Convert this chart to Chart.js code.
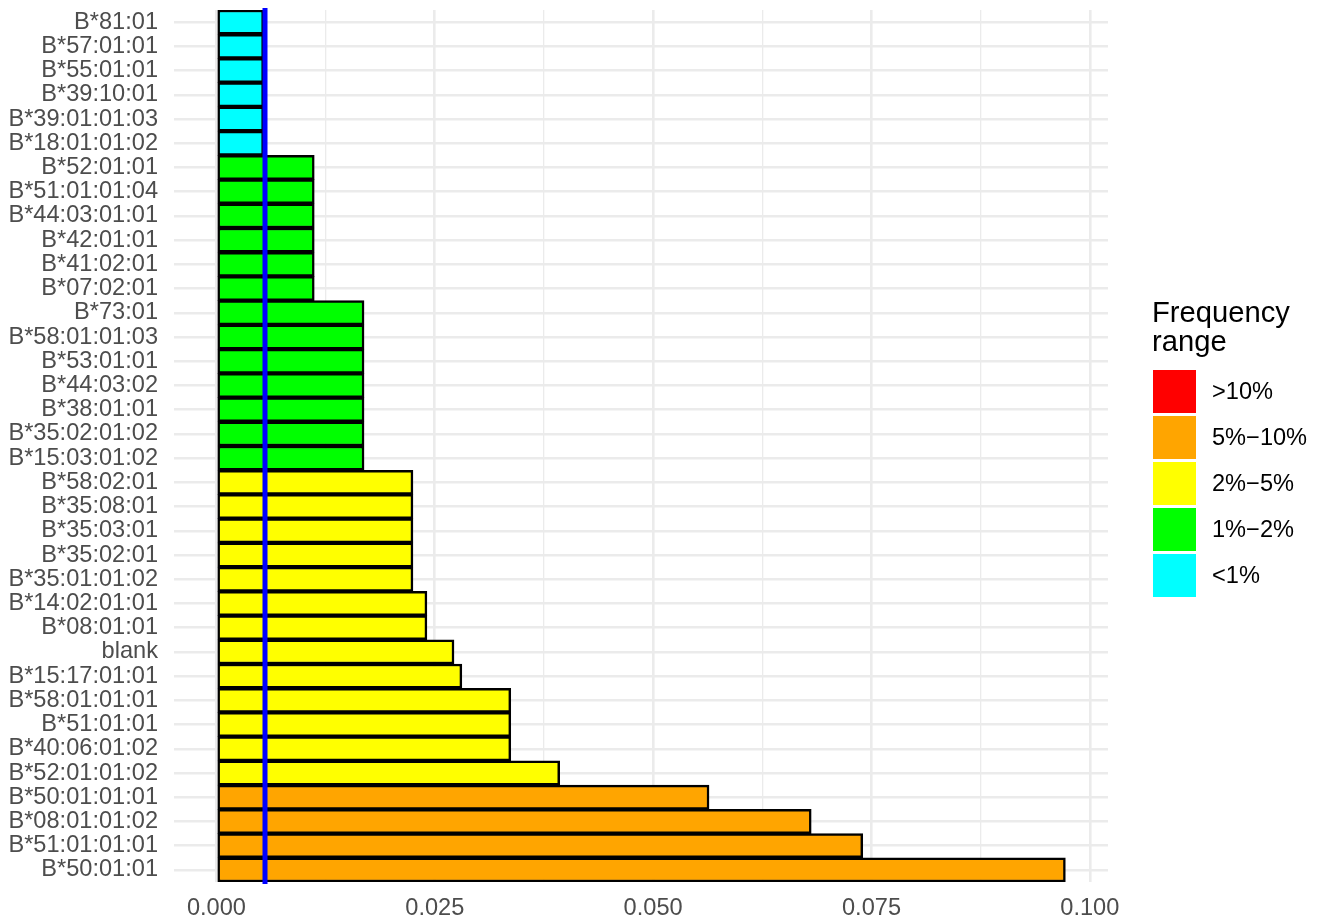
<!DOCTYPE html>
<html>
<head>
<meta charset="utf-8">
<script src="https://cdn.jsdelivr.net/npm/chart.js@4"></script>
<style>
  body { margin: 0; background: #fff; }
  canvas { display: block; }
</style>
</head>
<body>
<canvas id="freqChart" width="1321" height="921"></canvas>
<script>
// alleles, top to bottom
const alleles = [
  'B*81:01', 'B*57:01:01', 'B*55:01:01', 'B*39:10:01', 'B*39:01:01:03', 'B*18:01:01:02',
  'B*52:01:01', 'B*51:01:01:04', 'B*44:03:01:01', 'B*42:01:01', 'B*41:02:01', 'B*07:02:01',
  'B*73:01', 'B*58:01:01:03', 'B*53:01:01', 'B*44:03:02', 'B*38:01:01', 'B*35:02:01:02', 'B*15:03:01:02',
  'B*58:02:01', 'B*35:08:01', 'B*35:03:01', 'B*35:02:01', 'B*35:01:01:02',
  'B*14:02:01:01', 'B*08:01:01', 'blank', 'B*15:17:01:01',
  'B*58:01:01:01', 'B*51:01:01', 'B*40:06:01:02', 'B*52:01:01:02',
  'B*50:01:01:01', 'B*08:01:01:02', 'B*51:01:01:01', 'B*50:01:01'
];

const frequency = [
  0.0054, 0.0054, 0.0054, 0.0054, 0.0054, 0.0054,
  0.0112, 0.0112, 0.0112, 0.0112, 0.0112, 0.0112,
  0.0169, 0.0169, 0.0169, 0.0169, 0.0169, 0.0169, 0.0169,
  0.0225, 0.0225, 0.0225, 0.0225, 0.0225,
  0.0241, 0.0241, 0.0272, 0.0281,
  0.0337, 0.0337, 0.0337, 0.0393,
  0.0564, 0.0681, 0.0740, 0.0972
];

const freqRange = [
  '<1%', '<1%', '<1%', '<1%', '<1%', '<1%',
  '1%-2%', '1%-2%', '1%-2%', '1%-2%', '1%-2%', '1%-2%',
  '1%-2%', '1%-2%', '1%-2%', '1%-2%', '1%-2%', '1%-2%', '1%-2%',
  '2%-5%', '2%-5%', '2%-5%', '2%-5%', '2%-5%',
  '2%-5%', '2%-5%', '2%-5%', '2%-5%',
  '2%-5%', '2%-5%', '2%-5%', '2%-5%',
  '5%-10%', '5%-10%', '5%-10%', '5%-10%'
];

// legend entries
const rangeNames  = ['>10%', '5%-10%', '2%-5%', '1%-2%', '<1%'];
const rangeLabels = ['>10%', '5%\u221210%', '2%\u22125%', '1%\u22122%', '<1%'];
const rangeColors = ['#FF0000', '#FFA500', '#FFFF00', '#00FF00', '#00FFFF'];

const xTicks = [0, 0.0125, 0.025, 0.0375, 0.05, 0.0625, 0.075, 0.0875, 0.1];
const threshold = 0.00556;

const FONT = '"Liberation Sans", Arial, Helvetica, sans-serif';

function isMajor(v) {
  return Math.abs(v / 0.025 - Math.round(v / 0.025)) < 1e-6;
}

const barColors = freqRange.map(r => rangeColors[rangeNames.indexOf(r)]);

// blue vertical line at 1 / n
const vlinePlugin = {
  id: 'vline',
  afterDatasetsDraw(chart) {
    const ctx = chart.ctx;
    const area = chart.chartArea;
    const x = chart.scales.x.getPixelForValue(threshold);
    ctx.save();
    ctx.strokeStyle = '#0000FF';
    ctx.lineWidth = 5;
    ctx.beginPath();
    ctx.moveTo(x, area.top - 2);
    ctx.lineTo(x, area.bottom + 2);
    ctx.stroke();
    ctx.restore();
  }
};

// ggplot style legend on the right
const legendPlugin = {
  id: 'rangeLegend',
  afterDraw(chart) {
    const ctx = chart.ctx;
    ctx.save();
    ctx.fillStyle = '#000';
    ctx.font = '29.2px ' + FONT;
    ctx.textBaseline = 'alphabetic';
    ctx.textAlign = 'left';
    ctx.fillText('Frequency', 1152, 322);
    ctx.fillText('range', 1152, 351);
    ctx.font = '23.6px ' + FONT;
    ctx.textBaseline = 'middle';
    for (let i = 0; i < rangeNames.length; i++) {
      const top = 370 + i * 46;
      ctx.fillStyle = rangeColors[i];
      ctx.fillRect(1153, top, 43, 43);
      ctx.fillStyle = '#000';
      ctx.fillText(rangeLabels[i], 1212, top + 22);
    }
    ctx.restore();
  }
};

const ctx = document.getElementById('freqChart').getContext('2d');
const chart = new Chart(ctx, {
  type: 'bar',
  data: {
    labels: alleles,
    datasets: [{
      data: frequency,
      backgroundColor: barColors,
      borderColor: '#000',
      borderWidth: 2.5,
      borderSkipped: false,
      barPercentage: 1.0,
      categoryPercentage: 1.0
    }]
  },
  options: {
    indexAxis: 'y',
    responsive: false,
    animation: false,
    devicePixelRatio: 1,
    layout: { padding: { top: 10, right: 213, left: 0, bottom: 0 } },
    plugins: {
      legend: { display: false },
      tooltip: { enabled: false }
    },
    scales: {
      x: {
        type: 'linear',
        min: -0.00486,
        max: 0.10208,
        afterBuildTicks: axis => { axis.ticks = xTicks.map(v => ({ value: v })); },
        afterFit: axis => { axis.height = 39; axis.paddingLeft = 0; axis.paddingRight = 0; },
        border: { display: false },
        grid: {
          color: '#EBEBEB',
          lineWidth: c => isMajor(c.tick.value) ? 2.6 : 1.3,
          drawTicks: false
        },
        ticks: {
          autoSkip: false,
          maxRotation: 0,
          padding: 12,
          color: '#4D4D4D',
          font: { family: FONT, size: 23.6 },
          callback: v => isMajor(v) ? v.toFixed(3) : ''
        }
      },
      y: {
        afterFit: axis => { axis.width = 174; axis.paddingTop = 0; axis.paddingBottom = 0; },
        border: { display: false },
        grid: {
          color: '#EBEBEB',
          lineWidth: 2.4,
          offset: false,
          drawTicks: false
        },
        ticks: {
          autoSkip: false,
          padding: 16,
          color: '#4D4D4D',
          font: { family: FONT, size: 23.6 }
        }
      }
    }
  },
  plugins: [vlinePlugin, legendPlugin]
});
</script>
</body>
</html>
